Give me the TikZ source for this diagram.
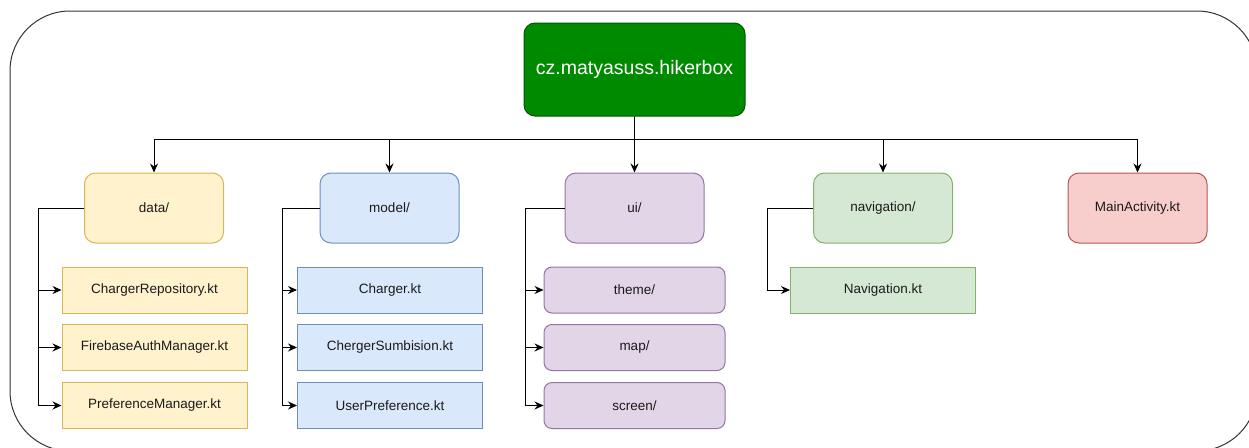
\documentclass[tikz,border=0pt]{standalone}
\usepackage{fontspec}
\setmainfont{Liberation Sans}
\usetikzlibrary{arrows.meta}

\definecolor{rootfill}{HTML}{008A00}
\definecolor{rootline}{HTML}{005700}
\definecolor{yfill}{HTML}{FFF2CC}\definecolor{yline}{HTML}{D6B656}
\definecolor{bfill}{HTML}{DAE8FC}\definecolor{bline}{HTML}{6C8EBF}
\definecolor{pfill}{HTML}{E1D5E7}\definecolor{pline}{HTML}{9673A6}
\definecolor{gfill}{HTML}{D5E8D4}\definecolor{gline}{HTML}{82B366}
\definecolor{rfill}{HTML}{F8CECC}\definecolor{rline}{HTML}{B85450}
\definecolor{txt}{HTML}{1A1A1A}

\tikzset{
  base/.style={line width=1pt, text=txt, font=\fontsize{13.5}{16}\selectfont,
               inner sep=0pt, align=center},
  pkg/.style={base, rounded corners=11pt, minimum width=139pt, minimum height=70pt},
  file/.style={base, minimum width=185pt, minimum height=46pt},
  folder/.style={base, rounded corners=8pt, minimum width=181pt, minimum height=46pt},
  yellowbox/.style={fill=yfill, draw=yline},
  bluebox/.style={fill=bfill, draw=bline},
  purplebox/.style={fill=pfill, draw=pline},
  greenbox/.style={fill=gfill, draw=gline},
  redbox/.style={fill=rfill, draw=rline},
  arr/.style={line width=1pt, draw=black, -{Stealth[length=9pt,width=8pt,inset=3pt]}},
}

\begin{document}
\begin{tikzpicture}[x=1pt,y=-1pt]
  \clip (0,0) rectangle (1249,447);

  % outer frame
  \draw[line width=1pt, draw=black!80, rounded corners=60pt] (10,11) rectangle (1257,451);

  % root package
  \node[base, fill=rootfill, draw=rootline, text=white, rounded corners=11pt,
        minimum width=221pt, minimum height=93pt,
        font=\fontsize{19.5}{22}\selectfont] (root) at (634.5,69.5) {cz.matyasuss.hikerbox};

  % second level
  \node[pkg, yellowbox] (data) at (154,208) {data/};
  \node[pkg, bluebox]   (model) at (389.5,208) {model/};
  \node[pkg, purplebox] (ui) at (634.5,208) {ui/};
  \node[pkg, greenbox]  (nav) at (883,208) {navigation/};
  \node[pkg, redbox]    (main) at (1137.5,208) {MainActivity.kt};

  % data/
  \node[file, yellowbox] (d1) at (154.5,290) {ChargerRepository.kt};
  \node[file, yellowbox] (d2) at (154.5,347.5) {FirebaseAuthManager.kt};
  \node[file, yellowbox] (d3) at (154.5,405.5) {PreferenceManager.kt};

  % model/
  \node[file, bluebox] (m1) at (390,290) {Charger.kt};
  \node[file, bluebox] (m2) at (390,347.5) {ChergerSumbision.kt};
  \node[file, bluebox] (m3) at (390,405.5) {UserPreference.kt};

  % ui/
  \node[folder, purplebox] (u1) at (634.5,290) {theme/};
  \node[folder, purplebox] (u2) at (634.5,347.5) {map/};
  \node[folder, purplebox] (u3) at (634.5,405.5) {screen/};

  % navigation/
  \node[file, greenbox] (n1) at (883,290) {Navigation.kt};

  % root to packages
  \coordinate (bus) at (634.5,139);
  \foreach \t in {data,model,ui,nav,main}
    \draw[arr] (root.south) -- (bus) -| (\t.north);

  % package trunks
  \coordinate (dtrunk) at (38,208);
  \coordinate (mtrunk) at (282,208);
  \coordinate (utrunk) at (525,208);
  \coordinate (ntrunk) at (767,208);
  \foreach \c in {d1,d2,d3} \draw[arr] (data.west) -- (dtrunk) |- (\c.west);
  \foreach \c in {m1,m2,m3} \draw[arr] (model.west) -- (mtrunk) |- (\c.west);
  \foreach \c in {u1,u2,u3} \draw[arr] (ui.west) -- (utrunk) |- (\c.west);
  \draw[arr] (nav.west) -- (ntrunk) |- (n1.west);
\end{tikzpicture}
\end{document}
